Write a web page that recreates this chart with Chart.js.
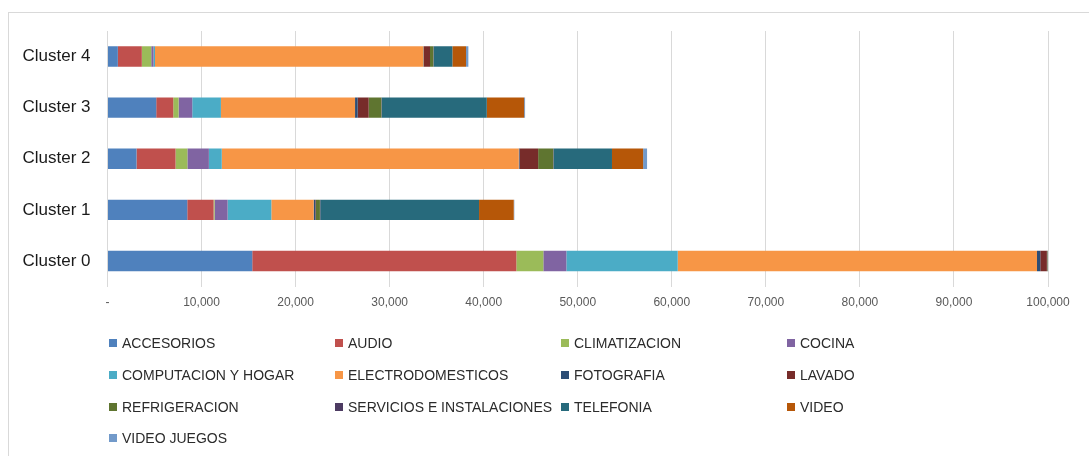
<!DOCTYPE html>
<html>
<head>
<meta charset="utf-8">
<script src="https://cdn.jsdelivr.net/npm/chart.js@4.4.1/dist/chart.umd.min.js"></script>
<style>
  html, body { margin: 0; padding: 0; background: #fff; }
  #wrap { position: relative; width: 1089px; height: 456px; overflow: hidden; }
  #frame { position: absolute; left: 8px; top: 12px; width: 1100px; height: 460px; border: 1px solid #d9d9d9; }
  #chart { position: absolute; left: 0; top: 0; }
</style>
</head>
<body>
<div id="wrap">
  <div id="frame"></div>
  <canvas id="chart" width="1089" height="456"></canvas>
</div>
<script>
// clusters, top to bottom
var clusters = ['Cluster 4', 'Cluster 3', 'Cluster 2', 'Cluster 1', 'Cluster 0'];

var categories = ['ACCESORIOS', 'AUDIO', 'CLIMATIZACION', 'COCINA', 'COMPUTACION Y HOGAR',
  'ELECTRODOMESTICOS', 'FOTOGRAFIA', 'LAVADO', 'REFRIGERACION', 'SERVICIOS E INSTALACIONES',
  'TELEFONIA', 'VIDEO', 'VIDEO JUEGOS'];

var colors = ['#4F81BD', '#C0504D', '#9BBB59', '#8064A2', '#4BACC6', '#F79646', '#2C4D75',
  '#772C2A', '#5F7530', '#4D3B62', '#276A7C', '#B65708', '#729ACA'];

// values per category, in cluster order (4, 3, 2, 1, 0)
var accesorios = [1100, 5180, 3085, 8480, 15390];
var audio = [2550, 1810, 4150, 2800, 28080];
var climatizacion = [1000, 570, 1260, 110, 2870];
var cocina = [250, 1450, 2285, 1380, 2450];
var computacion = [150, 3050, 1370, 4650, 11840];
var electro = [28540, 14260, 31580, 4500, 38200];
var fotografia = [60, 280, 80, 180, 350];
var lavado = [640, 1170, 1980, 60, 700];
var refrigeracion = [350, 1350, 1600, 425, 60];
var servicios = [40, 40, 40, 40, 40];
var telefonia = [1990, 11170, 6210, 16880, 0];
var video = [1450, 3970, 3310, 3690, 0];
var videoJuegos = [250, 100, 420, 60, 0];

var seriesValues = [accesorios, audio, climatizacion, cocina, computacion, electro, fotografia,
  lavado, refrigeracion, servicios, telefonia, video, videoJuegos];

var xTicks = [0, 10000, 20000, 30000, 40000, 50000, 60000, 70000, 80000, 90000, 100000];

var datasets = categories.map(function (name, i) {
  return {
    label: name,
    data: seriesValues[i],
    backgroundColor: colors[i],
    borderWidth: 0,
    barPercentage: 0.4,
    categoryPercentage: 1
  };
});

// legend drawn in 4 columns under the plot
var gridLegend = {
  id: 'gridLegend',
  afterDraw: function (chart) {
    var ctx = chart.ctx;
    var colX = [109, 335, 561, 787];
    var rowY = [343, 375, 407, 438];
    ctx.save();
    ctx.font = '14px "Liberation Sans", Arial, sans-serif';
    ctx.textBaseline = 'middle';
    chart.data.datasets.forEach(function (ds, i) {
      var x = colX[i % 4];
      var y = rowY[Math.floor(i / 4)];
      ctx.fillStyle = ds.backgroundColor;
      ctx.fillRect(x, y - 4, 8, 8);
      ctx.fillStyle = '#2b2b2b';
      ctx.fillText(ds.label, x + 13, y + 1);
    });
    ctx.restore();
  }
};

new Chart(document.getElementById('chart'), {
  type: 'bar',
  data: { labels: clusters, datasets: datasets },
  plugins: [gridLegend],
  options: {
    indexAxis: 'y',
    responsive: false,
    animation: false,
    layout: { padding: { top: 31, right: 41, left: 0, bottom: 0 } },
    plugins: {
      legend: { display: false },
      tooltip: { enabled: false }
    },
    scales: {
      x: {
        stacked: true,
        min: 0,
        max: 100000,
        afterFit: function (scale) { scale.height = 169.5; },
        afterBuildTicks: function (scale) {
          scale.ticks = xTicks.map(function (v) { return { value: v }; });
        },
        grid: { color: '#d9d9d9', lineWidth: 1, drawTicks: false },
        border: { display: false },
        ticks: {
          padding: 9,
          color: '#595959',
          font: { family: '"Liberation Sans", Arial, sans-serif', size: 12 },
          callback: function (v) { return v === 0 ? '-' : v.toLocaleString('en-US'); }
        }
      },
      y: {
        stacked: true,
        afterFit: function (scale) { scale.width = 107.5; },
        grid: { display: false, drawTicks: false },
        border: { display: true, color: '#d9d9d9', width: 1 },
        ticks: {
          padding: 17,
          color: '#1a1a1a',
          font: { family: '"Liberation Sans", Arial, sans-serif', size: 17 }
        }
      }
    }
  }
});
</script>
</body>
</html>
